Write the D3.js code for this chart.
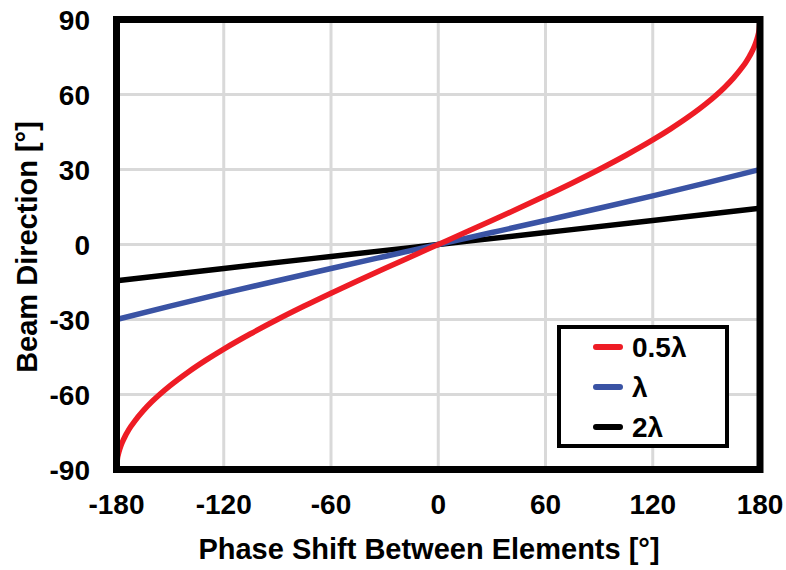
<!DOCTYPE html>
<html><head><meta charset="utf-8">
<script src="https://cdn.jsdelivr.net/npm/d3@7"></script>
<style>body{margin:0;background:#fff}svg{display:block}text{font-family:"Liberation Sans",Arial,sans-serif;font-weight:bold;fill:#000}</style>
</head><body><svg id="c" width="786" height="570"></svg>
<script>
const phase05 = [-180,-179.5,-179,-178,-177,-175,-174,-172,-170,-165,-160,-150,-140,-130,-120,-105,-90,-75,-60,-45,-30,-15,0,15,30,45,60,75,90,105,120,130,140,150,160,165,170,172,174,175,177,178,179,179.5,180];
const beam05 = [-90,-85.73,-83.95,-81.45,-79.52,-76.45,-75.16,-72.84,-70.81,-66.44,-62.73,-56.44,-51.06,-46.24,-41.81,-35.69,-30,-24.62,-19.47,-14.48,-9.59,-4.78,0,4.78,9.59,14.48,19.47,24.62,30,35.69,41.81,46.24,51.06,56.44,62.73,66.44,70.81,72.84,75.16,76.45,79.52,81.45,83.95,85.73,90];
const phase1 = [-180,-150,-120,-90,-60,-30,0,30,60,90,120,150,180];
const beam1 = [-30,-24.62,-19.47,-14.48,-9.59,-4.78,0,4.78,9.59,14.48,19.47,24.62,30];
const phase2 = [-180,-120,-60,0,60,120,180];
const beam2 = [-14.48,-9.59,-4.78,0,4.78,9.59,14.48];
const xTicks = [-180,-120,-60,0,60,120,180];
const yTicks = [-90,-60,-30,0,30,60,90];
const xTickLabels = ["-180","-120","-60","0","60","120","180"];
const yTickLabels = ["-90","-60","-30","0","30","60","90"];
const seriesNames = ["0.5λ","λ","2λ"];
const colors = ["#ee1c25","#3a53a4","#000000"];

const svg = d3.select("#c");
const L=116.5, R=760, T=19.5, B=469.5;
const x = d3.scaleLinear().domain([-180,180]).range([L,R]);
const y = d3.scaleLinear().domain([-90,90]).range([B,T]);

// grid
svg.append("g").selectAll("line").data(xTicks).join("line")
 .attr("x1",d=>x(d)).attr("x2",d=>x(d)).attr("y1",T).attr("y2",B)
 .attr("stroke","#d9d9d9").attr("stroke-width",3);
svg.append("g").selectAll("line").data(yTicks).join("line")
 .attr("y1",d=>y(d)).attr("y2",d=>y(d)).attr("x1",L).attr("x2",R)
 .attr("stroke","#d9d9d9").attr("stroke-width",3);

svg.append("clipPath").attr("id","clip").append("rect").attr("x",L).attr("y",T).attr("width",R-L).attr("height",B-T);

const line = d3.line().x(d=>x(d[0])).y(d=>y(d[1])).curve(d3.curveMonotoneX);
const series = [d3.zip(phase05,beam05), d3.zip(phase1,beam1), d3.zip(phase2,beam2)];
const g = svg.append("g").attr("clip-path","url(#clip)");
[2,1,0].forEach(i=>{
 g.append("path").datum(series[i]).attr("d",line).attr("fill","none")
  .attr("stroke",colors[i]).attr("stroke-width",5.5);
});

// border
svg.append("rect").attr("x",L).attr("y",T).attr("width",R-L).attr("height",B-T)
 .attr("fill","none").attr("stroke","#000").attr("stroke-width",7);

// tick labels
svg.append("g").selectAll("text").data(xTicks).join("text")
 .attr("x",d=>x(d)).attr("y",514).attr("text-anchor","middle").attr("font-size",28)
 .text((d,i)=>xTickLabels[i]);
svg.append("g").selectAll("text").data(yTicks).join("text")
 .attr("x",90).attr("y",d=>y(d)).attr("dy","0.36em").attr("text-anchor","end").attr("font-size",28)
 .text((d,i)=>yTickLabels[i]);

svg.append("text").attr("x",429).attr("y",559).attr("text-anchor","middle").attr("font-size",29)
 .text("Phase Shift Between Elements [°]");
svg.append("text").attr("transform","translate(37,247) rotate(-90)").attr("text-anchor","middle").attr("font-size",29)
 .text("Beam Direction [°]");

// legend
const lg = svg.append("g");
lg.append("rect").attr("x",559).attr("y",327).attr("width",168).attr("height",119)
 .attr("fill","#fff").attr("stroke","#000").attr("stroke-width",4);
seriesNames.forEach((n,i)=>{
 const yy = 347 + i*40;
 lg.append("line").attr("x1",596).attr("x2",620).attr("y1",yy).attr("y2",yy)
  .attr("stroke",colors[i]).attr("stroke-width",6).attr("stroke-linecap","round");
 lg.append("text").attr("x",632).attr("y",yy+10).attr("font-size",28).text(n);
});
</script></body></html>
